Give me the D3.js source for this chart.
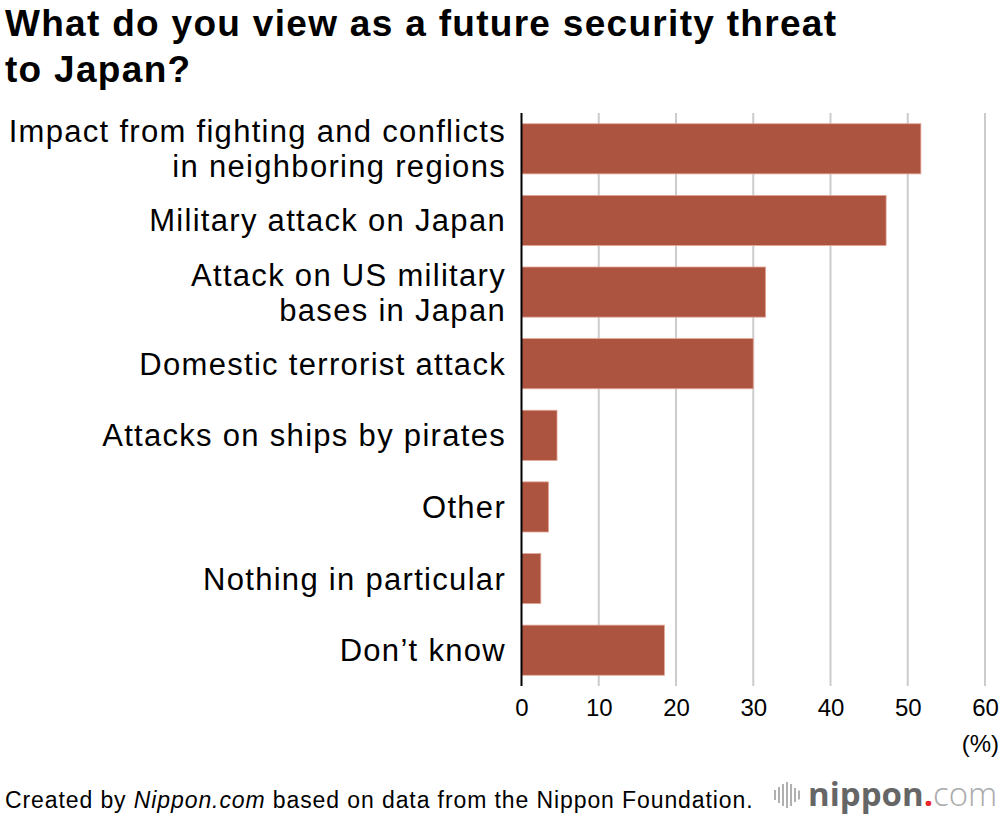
<!DOCTYPE html>
<html>
<head>
<meta charset="utf-8">
<script src="https://cdn.jsdelivr.net/npm/d3@7"></script>
<style>
  body { margin: 0; background: #fff; }
  svg { display: block; font-family: "Liberation Sans", Arial, Helvetica, sans-serif; }
</style>
</head>
<body>
<svg id="canvas" width="1000" height="816"></svg>
<script>
// survey answers, top to bottom
let categories = [
    'Impact from fighting and conflicts\nin neighboring regions',
    'Military attack on Japan',
    'Attack on US military\nbases in Japan',
    'Domestic terrorist attack',
    'Attacks on ships by pirates',
    'Other',
    'Nothing in particular',
    'Don\u2019t know'
]
let values = [51.7, 47.2, 31.6, 30.0, 4.6, 3.5, 2.5, 18.5]
let ticks = [0, 10, 20, 30, 40, 50, 60]

let canvas = d3.select('#canvas')

let x = d3.scaleLinear().domain([0, 60]).range([521.5, 985])
let y = d3.scaleBand().domain(categories).range([113, 686])
            .paddingInner(0.3).paddingOuter(0.15)

// title
let titleLines = ['What do you view as a future security threat', 'to Japan?']
canvas.append('g')
    .selectAll('text')
    .data(titleLines)
    .enter()
    .append('text')
    .attr('x', 5)
    .attr('y', (d, i) => 36 + i * 46)
    .attr('font-size', 37)
    .attr('font-weight', 'bold')
    .attr('letter-spacing', 1.3)
    .text((d) => d)

// gridlines
canvas.append('g')
    .selectAll('line')
    .data(ticks.slice(1))
    .enter()
    .append('line')
    .attr('x1', (d) => x(d)).attr('x2', (d) => x(d))
    .attr('y1', 113).attr('y2', 686)
    .attr('stroke', '#cccccc').attr('stroke-width', 2)

// bars
canvas.append('g')
    .selectAll('rect')
    .data(values)
    .enter()
    .append('rect')
    .attr('x', x(0))
    .attr('y', (d, i) => y(categories[i]))
    .attr('width', (d) => x(d) - x(0))
    .attr('height', y.bandwidth())
    .attr('fill', '#ad5440')
    .attr('stroke', '#e3a898').attr('stroke-width', 0.8)

// zero line
canvas.append('line')
    .attr('x1', x(0)).attr('x2', x(0))
    .attr('y1', 113).attr('y2', 686)
    .attr('stroke', '#000').attr('stroke-width', 2)

// category labels
let labels = canvas.append('g')
    .selectAll('text')
    .data(categories)
    .enter()
    .append('text')
    .attr('text-anchor', 'end')
    .attr('font-size', 31)
    .attr('letter-spacing', 1.3)
    .attr('fill', '#000')
labels.each(function (d) {
    let lines = d.split('\n')
    let cy = y(d) + y.bandwidth() / 2
    let lh = 35
    let top = cy - (lines.length - 1) * lh / 2
    lines.forEach((ln, k) => {
        d3.select(this).append('tspan')
            .attr('x', 506)
            .attr('y', top + k * lh + 11)
            .text(ln)
    })
})

// x axis tick labels
let xAxis = d3.axisBottom(x).tickValues(ticks).tickSize(0).tickPadding(0)
let axisG = canvas.append('g')
    .attr('transform', 'translate(0, 698)')
    .call(xAxis)
axisG.select('.domain').remove()
axisG.selectAll('text')
    .attr('font-size', 24)
    .attr('font-family', '"Liberation Sans", Arial, sans-serif')
    .attr('fill', '#000')
    .attr('dy', '0.75em')
canvas.append('text')
    .attr('x', 999).attr('y', 752)
    .attr('text-anchor', 'end')
    .attr('font-size', 24)
    .text('(%)')

// footer
let foot = canvas.append('text')
    .attr('x', 5).attr('y', 808)
    .attr('font-size', 23)
    .attr('letter-spacing', 0.9)
foot.append('tspan').text('Created by ')
foot.append('tspan').attr('font-style', 'italic').text('Nippon.com')
foot.append('tspan').text(' based on data from the Nippon Foundation.')

// logo
let logoBars = [[774, 10], [778, 16], [782, 22], [786, 26], [790, 22], [794, 14], [798, 9]]
canvas.append('g')
    .selectAll('rect')
    .data(logoBars)
    .enter()
    .append('rect')
    .attr('x', (d) => d[0])
    .attr('y', (d) => 795 - d[1] / 2)
    .attr('width', 2)
    .attr('height', (d) => d[1])
    .attr('fill', '#b0b0b0')
let logo = canvas.append('text')
    .attr('x', 808).attr('y', 806)
    .attr('font-size', 33)
    .attr('font-family', '"Open Sans", "Noto Sans", sans-serif')
logo.append('tspan').attr('font-weight', 'bold').attr('fill', '#666').text('nippon')
logo.append('tspan').attr('font-weight', 'bold').attr('fill', '#e8262c').text('.')
logo.append('tspan').attr('fill', '#aaa').attr('font-weight', '300').text('com')
</script>
</body>
</html>
